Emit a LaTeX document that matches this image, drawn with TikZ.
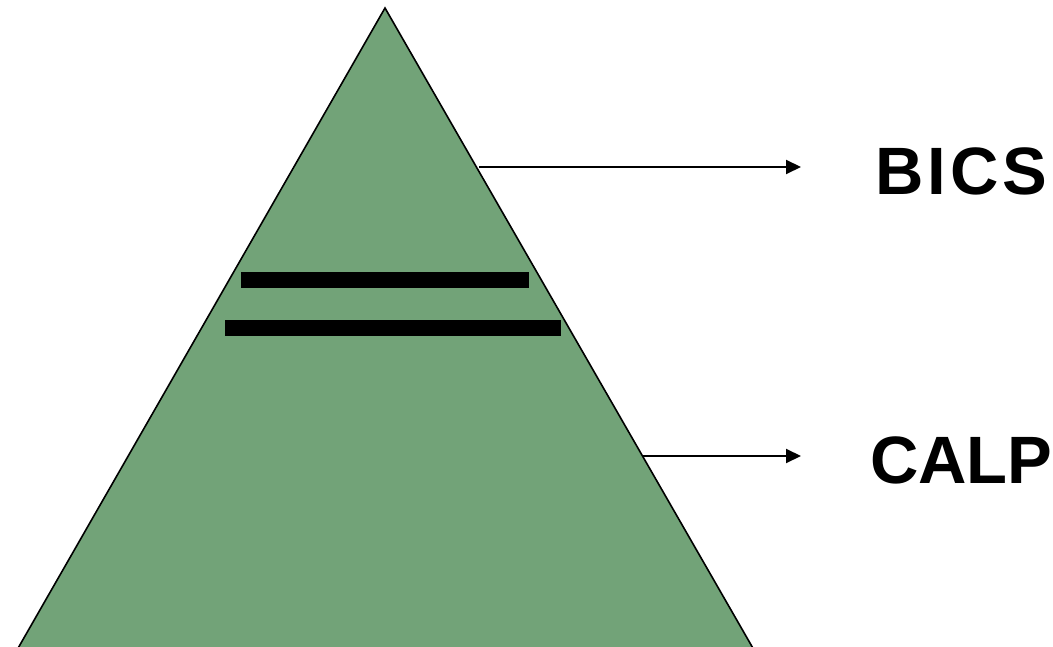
\documentclass[tikz,border=0pt]{standalone}
\usepackage{fontspec}
\setmainfont{Liberation Sans}
\usepackage{tikz}
\usetikzlibrary{arrows.meta,positioning,calc}
\definecolor{hill}{RGB}{114,163,120}

\begin{document}
\begin{tikzpicture}[x=1pt,y=-1pt,
  label/.style={anchor=base west,inner sep=0pt,font=\fontsize{67}{67}\selectfont\bfseries},
  arrow/.style={-{Triangle[length=15pt,width=14pt]},line width=2pt},
  bar/.style={fill=black}
]
\useasboundingbox (0,0) rectangle (1053,647);
% triangle
\coordinate (apex) at (385,8);
\coordinate (baseL) at (17,650);
\coordinate (baseR) at (754,650);
\fill[hill,draw=black,line width=1.6pt] (apex) -- (baseL) -- (baseR) -- cycle;
\fill[bar] (241,272) rectangle (529,288);
\fill[bar] (225,320) rectangle (561,336);
% labels
\node[label] (bics) at (875,195) {\addfontfeatures{LetterSpace=6}BICS};
\node[label] (calp) at (870,483) {CALP};
\coordinate (bicsFrom) at (479,167);
\coordinate (bicsTo) at (801,167);
\coordinate (calpFrom) at (643,456);
\coordinate (calpTo) at (801,456);
\draw[arrow] (bicsFrom) -- (bicsTo);
\draw[arrow] (calpFrom) -- (calpTo);
\end{tikzpicture}
\end{document}
